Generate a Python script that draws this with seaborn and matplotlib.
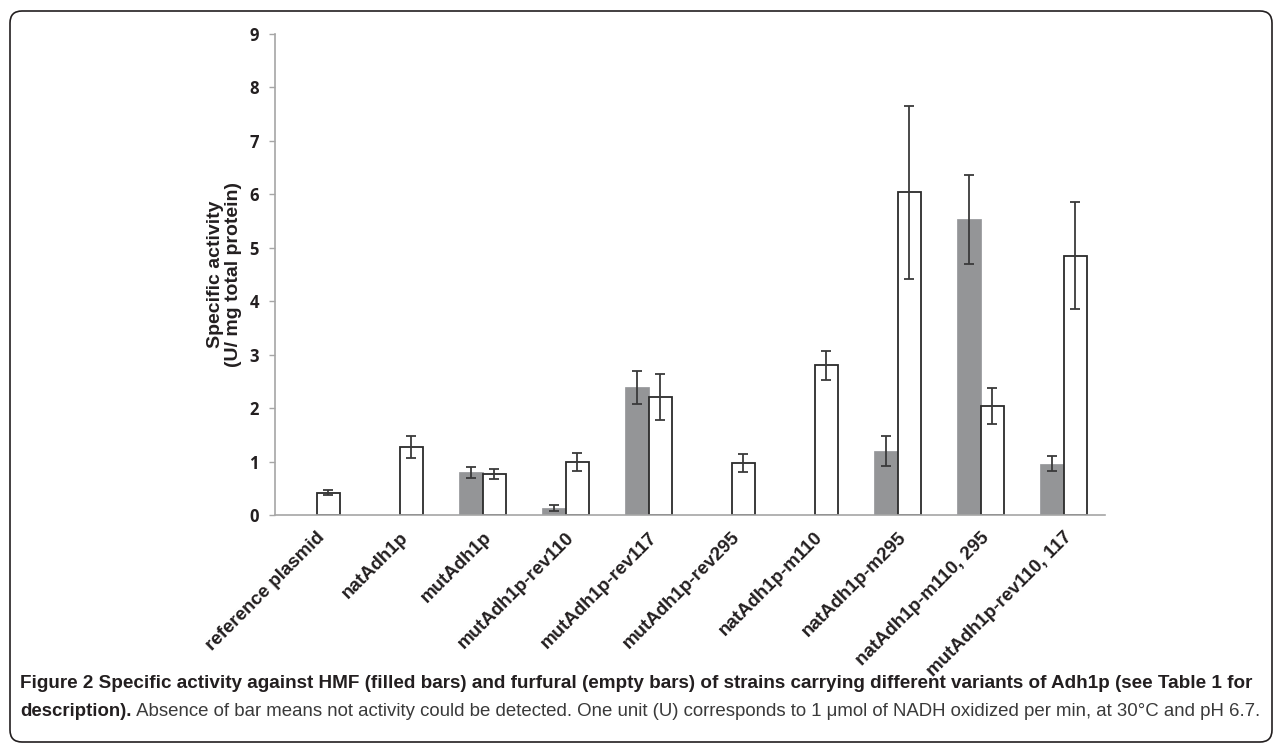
import numpy as np
import pandas as pd
import matplotlib
matplotlib.use("Agg")
import matplotlib.pyplot as plt
from matplotlib import font_manager
from matplotlib.patches import FancyBboxPatch
import seaborn as sns

strains = ["reference plasmid", "natAdh1p", "mutAdh1p", "mutAdh1p-rev110",
           "mutAdh1p-rev117", "mutAdh1p-rev295", "natAdh1p-m110",
           "natAdh1p-m295", "natAdh1p-m110, 295", "mutAdh1p-rev110, 117"]
# filled bars: HMF, empty bars: furfural
hmf = [0, 0, 0.80, 0.13, 2.39, 0, 0, 1.20, 5.53, 0.96]
hmf_err = [0, 0, 0.10, 0.05, 0.31, 0, 0, 0.28, 0.83, 0.14]
furfural = [0.42, 1.27, 0.77, 0.99, 2.20, 0.98, 2.80, 6.04, 2.04, 4.85]
furfural_err = [0.05, 0.20, 0.10, 0.17, 0.43, 0.17, 0.27, 1.62, 0.34, 1.00]
yticks = list(range(0, 10))

caption_bold = ("Figure 2 Specific activity against HMF (filled bars) and furfural (empty bars) "
                "of strains carrying different variants of Adh1p (see Table 1 for")
caption_bold2 = "description)."
caption_rest = (" Absence of bar means not activity could be detected. One unit (U) corresponds "
                "to 1 \u03bcmol of NADH oxidized per min, at 30\u00b0C and pH 6.7.")

df = pd.DataFrame({
    "strain": strains * 2,
    "substrate": ["HMF"] * len(strains) + ["furfural"] * len(strains),
    "activity": hmf + furfural,
})

sns.set_style("white")
names = {f.name for f in font_manager.fontManager.ttflist}
cap_font = "Liberation Sans Narrow" if "Liberation Sans Narrow" in names else "Liberation Sans"
plt.rcParams["font.family"] = ["Liberation Sans", "DejaVu Sans"]

fig = plt.figure(figsize=(12.82, 7.53), dpi=100)
ax = fig.add_axes([275 / 1282, 1 - 515 / 753, 830 / 1282, 481 / 753])

sns.barplot(data=df, x="strain", y="activity", hue="substrate",
            hue_order=["HMF", "furfural"],
            palette={"HMF": "#939598", "furfural": "white"},
            width=0.57, gap=0, legend=False, ax=ax, errorbar=None)

grey_bars, white_bars = ax.containers[0], ax.containers[1]
for p in grey_bars:
    p.set_edgecolor("#939598")
    p.set_linewidth(0.5)
for p in white_bars:
    p.set_edgecolor("#2b2b2b")
    p.set_linewidth(1.3)

for cont, vals, errs in [(grey_bars, hmf, hmf_err), (white_bars, furfural, furfural_err)]:
    xs = [p.get_x() + p.get_width() / 2 for p in cont]
    yerr = [e if v > 0 else np.nan for v, e in zip(vals, errs)]
    ax.errorbar(xs, vals, yerr=yerr, fmt="none", ecolor="#3a3a3a",
                elinewidth=1.3, capsize=3.5, capthick=1.3, zorder=5)

ax.set_ylim(0, 9)
ax.set_xlim(-0.5, len(strains) - 0.5)
ax.set_yticks(yticks)
ax.set_yticklabels([str(t) for t in yticks], fontfamily="Open Sans",
                   fontweight="bold", fontsize=12, color="#231f20")
ax.tick_params(axis="y", length=4.5, width=1, color="#a6a6a6", pad=7, left=True)
ax.tick_params(axis="x", length=0, pad=10)
ax.set_xticks(range(len(strains)))
ax.set_xticklabels(strains, rotation=45, ha="right", va="top", rotation_mode="anchor",
                   fontweight="bold", fontsize=13.5, color="#231f20")
ax.set_xlabel("")
ax.set_ylabel("Specific activity\n(U/ mg total protein)", fontweight="bold",
              fontsize=14, color="#231f20", linespacing=1.05)
ax.yaxis.set_label_coords(-0.04, 0.5)

for side in ["top", "right"]:
    ax.spines[side].set_visible(False)
for side in ["left", "bottom"]:
    ax.spines[side].set_color("#a6a6a6")
    ax.spines[side].set_linewidth(1.2)

# frame round the figure
frame = FancyBboxPatch((0.10, 0.11), 12.62, 7.31, boxstyle="round,pad=0,rounding_size=0.12",
                       transform=fig.dpi_scale_trans, fill=False,
                       edgecolor="#231f20", linewidth=1.2)
fig.patches.append(frame)

# caption
renderer = fig.canvas.get_renderer()
x0 = 20 / 1282
t1 = fig.text(x0, 1 - 684 / 753, caption_bold, fontfamily=cap_font, fontweight="bold",
              fontsize=12, color="#231f20", va="center", ha="left")
w1 = t1.get_window_extent(renderer).width
t1.set_fontsize(12 * 1228 / w1)

t2 = fig.text(x0, 1 - 711 / 753, caption_bold2, fontfamily=cap_font, fontweight="bold",
              fontsize=12, color="#231f20", va="center", ha="left")
t3 = fig.text(x0, 1 - 711 / 753, caption_rest, fontfamily=cap_font, fontweight="normal",
              fontsize=12, color="#3a3a3a", va="center", ha="left")
w2 = t2.get_window_extent(renderer).width + t3.get_window_extent(renderer).width
fs2 = 12 * 1245 / w2
t2.set_fontsize(fs2)
t3.set_fontsize(fs2)
w2b = t2.get_window_extent(renderer).width
t3.set_x(x0 + w2b / 1282)

fig.savefig("out.png", dpi=100)
